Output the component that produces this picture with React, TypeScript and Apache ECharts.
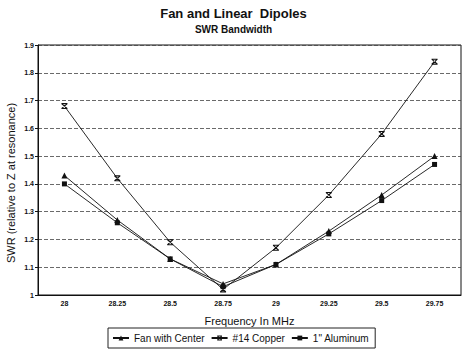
import React, { useEffect, useRef } from "react";
import * as echarts from "echarts";

const categories = ["28", "28.25", "28.5", "28.75", "29", "29.25", "29.5", "29.75"];
const fanWithCenter = [1.43, 1.27, 1.13, 1.04, 1.11, 1.23, 1.36, 1.5];
const copper14 = [1.68, 1.42, 1.19, 1.02, 1.17, 1.36, 1.58, 1.84];
const aluminum1 = [1.4, 1.26, 1.13, 1.03, 1.11, 1.22, 1.34, 1.47];
const yTicks = { min: 1, max: 1.9, interval: 0.1 };

const FONT = "'Liberation Sans', Arial, sans-serif";
const copperSymbol =
  "path://M0,0 L10,0 L10,1.8 L0,1.8 Z M0,8.2 L10,8.2 L10,10 L0,10 Z M0,1.8 L2.6,1.8 L10,8.2 L7.4,8.2 Z M10,1.8 L7.4,1.8 L0,8.2 L2.6,8.2 Z";

export default function App() {
  const ref = useRef<HTMLDivElement>(null);
  useEffect(() => {
    if (!ref.current) return;
    const chart = echarts.init(ref.current, null, { renderer: "svg" });
    const lineStyle = { color: "#111", width: 0.9 };
    chart.setOption({
      animation: false,
      backgroundColor: "#fff",
      textStyle: { fontFamily: FONT, color: "#111" },
      title: {
        text: "Fan and Linear  Dipoles",
        subtext: "SWR Bandwidth",
        left: "center",
        top: 2,
        itemGap: 4,
        textStyle: { fontFamily: FONT, fontSize: 13, fontWeight: "bold", color: "#111" },
        subtextStyle: { fontFamily: FONT, fontSize: 10, fontWeight: "bold", color: "#111" },
      },
      legend: {
        left: 108,
        top: 328,
        orient: "horizontal",
        padding: [5, 6, 5, 4],
        itemGap: 6,
        itemWidth: 16,
        itemHeight: 6,
        borderColor: "#222",
        borderWidth: 1,
        textStyle: { fontFamily: FONT, fontSize: 10, color: "#111" },
        data: ["Fan with Center", "#14 Copper", "1\" Aluminum"],
      },
      graphic: [
        {
          type: "text",
          x: 11,
          y: 183,
          rotation: Math.PI / 2,
          style: {
            text: "SWR (relative to Z at resonance)",
            fontFamily: FONT,
            fontSize: 11,
            fill: "#111",
            align: "center",
            verticalAlign: "middle",
          },
        },
      ],
      grid: { left: 38, right: 6, top: 45, bottom: 62, show: true, borderColor: "#111", borderWidth: 1 },
      xAxis: {
        type: "category",
        data: categories,
        boundaryGap: true,
        name: "Frequency In MHz",
        nameLocation: "middle",
        nameGap: 20,
        nameTextStyle: { fontFamily: FONT, fontSize: 11, color: "#111" },
        axisLine: { lineStyle: { color: "#111" } },
        axisTick: { alignWithLabel: true, length: 4, lineStyle: { color: "#111" } },
        axisLabel: { fontSize: 7, fontWeight: "bold", color: "#111", margin: 5 },
        splitLine: { show: false },
      },
      yAxis: {
        type: "value",
        min: yTicks.min,
        max: yTicks.max,
        interval: yTicks.interval,
        axisLine: { show: true, lineStyle: { color: "#111" } },
        axisTick: { show: true, length: 3, lineStyle: { color: "#111" } },
        axisLabel: {
          fontSize: 7,
          fontWeight: "bold",
          color: "#111",
          margin: 4,
          formatter: (v: number) => String(Math.round(v * 10) / 10),
        },
        splitLine: { show: true, lineStyle: { color: "#444", type: [4, 2], width: 0.8 } },
      },
      series: [
        {
          name: "Fan with Center",
          type: "line",
          data: fanWithCenter,
          symbol: "triangle",
          symbolSize: 6,
          itemStyle: { color: "#111" },
          lineStyle,
        },
        {
          name: "#14 Copper",
          type: "line",
          data: copper14,
          symbol: copperSymbol,
          symbolSize: 6,
          itemStyle: { color: "#111" },
          lineStyle,
        },
        {
          name: "1\" Aluminum",
          type: "line",
          data: aluminum1,
          symbol: "rect",
          symbolSize: 5,
          itemStyle: { color: "#111" },
          lineStyle,
        },
      ],
    });
    return () => chart.dispose();
  }, []);
  return <div ref={ref} style={{ width: 467, height: 357, position: "absolute", left: 0, top: 0 }} />;
}
